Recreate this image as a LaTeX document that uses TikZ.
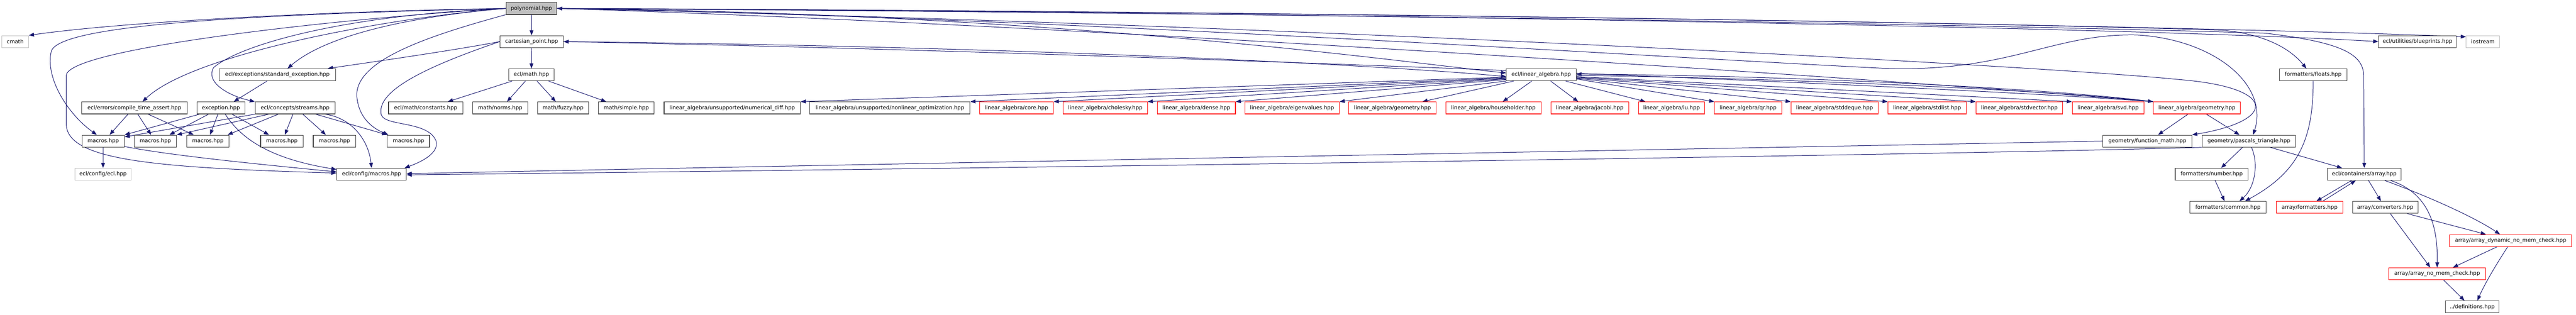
\documentclass[tikz,border=0pt]{standalone}
\usepackage{fontspec}
\setmainfont{DejaVu Sans}
\usetikzlibrary{arrows.meta,calc}
\pgfdeclarelayer{bg}
\pgfsetlayers{bg,main}
\definecolor{edgecol}{HTML}{191970}
\definecolor{boxcol}{HTML}{404040}
\definecolor{redcol}{HTML}{FF0000}
\definecolor{greycol}{HTML}{BFBFBF}
\tikzset{
  box/.style={draw=boxcol, line width=1.3pt, fill=white, minimum height=28pt, inner sep=0pt,
    text=black, font=\fontsize{12.5}{15}\selectfont},
  rbox/.style={box, draw=redcol},
  gbox/.style={box, draw=greycol},
  edge/.style={draw=edgecol, line width=1.2pt, -{Triangle[length=12pt,width=9pt]}},
}
\begin{document}
\begin{tikzpicture}[x=1pt,y=-1.41pt]
\useasboundingbox (0,0) rectangle (6028,522);
% row 0
\node[box, minimum width=119pt, fill=greycol] (P) at (1243.5,14) {polynomial.hpp};
% row 1
\node[gbox, minimum width=63pt] (cmath) at (35.5,69) {cmath};
\node[box, minimum width=148pt] (C) at (1244,69) {cartesian\_point.hpp};
\node[box, minimum width=182pt] (blue) at (5657,69) {ecl/utilities/blueprints.hpp};
\node[gbox, minimum width=78pt] (ios) at (5810,69) {iostream};
% row 2
\node[box, minimum width=272pt] (sexc) at (649,124) {ecl/exceptions/standard\_exception.hpp};
\node[box, minimum width=107pt] (math) at (1243.5,124) {ecl/math.hpp};
\node[box, minimum width=163pt] (L) at (3606.5,124) {ecl/linear\_algebra.hpp};
\node[box, minimum width=158pt] (floats) at (5413,124) {formatters/floats.hpp};
% row 3
\node[box, minimum width=247pt] (cta) at (314.5,179) {ecl/errors/compile\_time\_assert.hpp};
\node[box, minimum width=112pt] (exc) at (517,179) {exception.hpp};
\node[box, minimum width=187pt] (streams) at (690.5,179) {ecl/concepts/streams.hpp};
\node[box, minimum width=174pt] (const) at (996,179) {ecl/math/constants.hpp};
\node[box, minimum width=129pt] (norms) at (1170.5,179) {math/norms.hpp};
\node[box, minimum width=119pt] (fuzzy) at (1317.5,179) {math/fuzzy.hpp};
\node[box, minimum width=131pt] (simple) at (1465.5,179) {math/simple.hpp};
\node[box, minimum width=319pt] (numdiff) at (1713.5,179) {linear\_algebra/unsupported/numerical\_diff.hpp};
\node[box, minimum width=375pt] (nlopt) at (2082.5,179) {linear\_algebra/unsupported/nonlinear\_optimization.hpp};
\node[rbox, minimum width=173pt] (core) at (2378.5,179) {linear\_algebra/core.hpp};
\node[rbox, minimum width=197pt] (chol) at (2586.5,179) {linear\_algebra/cholesky.hpp};
\node[rbox, minimum width=183pt] (dense) at (2799.5,179) {linear\_algebra/dense.hpp};
\node[rbox, minimum width=221pt] (eigen) at (3023.5,179) {linear\_algebra/eigenvalues.hpp};
\node[rbox, minimum width=205pt] (geomA) at (3258.5,179) {linear\_algebra/geometry.hpp};
\node[rbox, minimum width=223pt] (house) at (3494.5,179) {linear\_algebra/householder.hpp};
\node[rbox, minimum width=182pt] (jacobi) at (3720,179) {linear\_algebra/jacobi.hpp};
\node[rbox, minimum width=155pt] (lu) at (3911.5,179) {linear\_algebra/lu.hpp};
\node[rbox, minimum width=157pt] (qr) at (4090.5,179) {linear\_algebra/qr.hpp};
\node[rbox, minimum width=204pt] (deque) at (4293,179) {linear\_algebra/stddeque.hpp};
\node[rbox, minimum width=183pt] (list) at (4509.5,179) {linear\_algebra/stdlist.hpp};
\node[rbox, minimum width=203pt] (vector) at (4725.5,179) {linear\_algebra/stdvector.hpp};
\node[rbox, minimum width=168pt] (svd) at (4933,179) {linear\_algebra/svd.hpp};
\node[rbox, minimum width=204pt] (geomB) at (5141,179) {linear\_algebra/geometry.hpp};
% row 4
\node[box, minimum width=99pt] (m1) at (241.5,234) {macros.hpp};
\node[box, minimum width=99pt] (m2) at (363.5,234) {macros.hpp};
\node[box, minimum width=99pt] (m3) at (486.5,234) {macros.hpp};
\node[box, minimum width=99pt] (m4) at (659.5,234) {macros.hpp};
\node[box, minimum width=99pt] (m5) at (782.5,234) {macros.hpp};
\node[box, minimum width=99pt] (m6) at (956,234) {macros.hpp};
\node[box, minimum width=208pt] (fmath) at (5025,234) {geometry/function\_math.hpp};
\node[box, minimum width=219pt] (pascal) at (5262.5,234) {geometry/pascals\_triangle.hpp};
% row 5
\node[gbox, minimum width=132pt] (eclhpp) at (241,289) {ecl/config/ecl.hpp};
\node[box, minimum width=163pt] (cfgm) at (869.5,289) {ecl/config/macros.hpp};
\node[box, minimum width=171pt] (number) at (5175.5,289) {formatters/number.hpp};
\node[box, minimum width=173pt] (array) at (5532.5,289) {ecl/containers/array.hpp};
% row 6
\node[box, minimum width=179pt] (common) at (5213.5,344) {formatters/common.hpp};
\node[rbox, minimum width=155pt] (afmt) at (5404.5,344) {array/formatters.hpp};
\node[box, minimum width=153pt] (conv) at (5581.5,344) {array/converters.hpp};
% rows 7-9
\node[rbox, minimum width=286pt] (adyn) at (5875,399) {array/array\_dynamic\_no\_mem\_check.hpp};
\node[rbox, minimum width=226pt] (anomem) at (5703,454) {array/array\_no\_mem\_check.hpp};
\node[box, minimum width=126pt] (defs) at (5785,509) {../definitions.hpp};

\begin{pgfonlayer}{bg}
\fill[white] (0,0) rectangle (6028,522);
% polynomial.hpp
\draw[edge] (P.west) .. controls (800,18) and (300,35) .. (cmath.north east);
\draw[edge] (P.west) .. controls (600,24) and (140,40) .. (120,85) .. controls (105,130) and (160,190) .. ($(m1.north)+(-15,0)$);
\draw[edge] (P.west) .. controls (800,30) and (160,80) .. (155,125) -- (155,205) .. controls (155,265) and (350,278) .. ($(cfgm.west)+(0,-2)$);
\draw[edge] (P.west) .. controls (900,30) and (450,90) .. ($(cta.north)+(19,0)$);
\draw[edge] (P.west) .. controls (800,25) and (560,75) .. (500,112) .. controls (480,135) and (530,158) .. (streams.north west);
\draw[edge] (P.west) .. controls (950,28) and (760,60) .. ($(sexc.north)+(24,0)$);
\draw[edge] (P.south west) .. controls (1000,60) and (830,100) .. (835,160) .. controls (840,200) and (880,215) .. ($(m6.north west)+(3,0)$);
\draw[edge] (P) -- (C);
\draw[edge] (P.east) .. controls (2500,22) and (3300,105) .. ($(L.west)+(0,-3)$);
\draw[edge] (P.east) .. controls (3000,40) and (4800,110) .. (5100,132) .. controls (5330,145) and (5330,200) .. (fmath.north east);
\draw[edge] (P.east) .. controls (2500,30) and (3800,92) .. (4400,113) .. controls (4700,122) and (4800,55) .. (5000,58) .. controls (5180,65) and (5310,140) .. ($(pascal.north)+(10,0)$);
\draw[edge] (P.east) .. controls (3000,20) and (4500,35) .. (5200,50) .. controls (5320,58) and (5370,90) .. ($(floats.north)+(-16,0)$);
\draw[edge] (P.east) .. controls (3000,22) and (4500,38) .. (5300,55) .. controls (5480,70) and (5530,90) .. (5531,125) -- (array.north);
\draw[edge] (P.east) .. controls (3000,20) and (5000,45) .. (blue.west);
\draw[edge] (P.east) .. controls (3000,18) and (5000,40) .. ($(ios.west)+(0,-8)$);
% cartesian_point.hpp
\draw[edge] (C) -- (math);
\draw[edge] (C.west) .. controls (1050,85) and (850,105) .. ($(sexc.north)+(118,0)$);
\draw[edge] (C.west) .. controls (1000,110) and (880,150) .. (892,190) .. controls (900,210) and (1000,200) .. (1020,233) .. controls (1030,255) and (980,270) .. ($(cfgm.north east)+(-5,0)$);
\draw[edge] (C.east) .. controls (2500,78) and (3300,112) .. ($(L.west)+(0,3)$);
% ecl/math.hpp
\draw[edge] ($(math.south)+(-45,0)$) -- ($(const.north)+(52,0)$);
\draw[edge] ($(math.south)+(-14,0)$) -- ($(norms.north)+(16,0)$);
\draw[edge] ($(math.south)+(13,0)$) -- ($(fuzzy.north)+(-17,0)$);
\draw[edge] ($(math.south)+(40,0)$) -- ($(simple.north)+(-47,0)$);
% ecl/linear_algebra.hpp
\draw[edge] ($(L.west)+(0,4)$) -- (numdiff.north east);
\draw[edge] ($(L.west)+(0,5)$) -- (nlopt.north east);
\draw[edge] ($(L.west)+(0,6)$) -- (core.north east);
\draw[edge] ($(L.west)+(0,7)$) -- (chol.north east);
\draw[edge] ($(L.west)+(0,8)$) -- (dense.north east);
\draw[edge] (L.south west) -- (eigen.north east);
\draw[edge] ($(L.south west)+(18,0)$) -- ($(geomA.north)+(70,0)$);
\draw[edge] ($(L.south)+(-22,0)$) -- ($(house.north)+(22,0)$);
\draw[edge] ($(L.south)+(22,0)$) -- ($(jacobi.north)+(-27,0)$);
\draw[edge] ($(L.south)+(57,0)$) -- ($(lu.north)+(-61,0)$);
\draw[edge] ($(L.east)+(0,7)$) -- (qr.north west);
\draw[edge] ($(L.east)+(0,6)$) -- (deque.north west);
\draw[edge] ($(L.east)+(0,5)$) -- (list.north west);
\draw[edge] ($(L.east)+(0,4)$) -- (vector.north west);
\draw[edge] ($(L.east)+(0,3)$) -- (svd.north west);
\draw[edge] ($(L.east)+(0,1)$) .. controls (4200,130) and (4800,150) .. (geomB.north west);
\draw[edge] (geomB.north west) .. controls (4800,147) and (4200,125) .. ($(L.east)+(0,-1)$);
\draw[edge] (geomB.north west) .. controls (4500,135) and (2500,40) .. (P.east);
\draw[edge] (geomB.north west) .. controls (4500,140) and (2500,85) .. (C.east);
% exceptions, asserts, streams
\draw[edge] ($(sexc.south)+(-24,0)$) -- ($(exc.north)+(30,0)$);
\draw[edge] ($(exc.south)+(-50,0)$) -- (m1.north east);
\draw[edge] ($(exc.south)+(-29,0)$) -- ($(m2.north)+(33,0)$);
\draw[edge] ($(exc.south)+(-7,0)$) -- ($(m3.north)+(5,0)$);
\draw[edge] ($(exc.south)+(26,0)$) -- ($(m4.north)+(-30,0)$);
\draw[edge] ($(exc.south)+(10,0)$) .. controls (560,225) and (620,262) .. ($(cfgm.west)+(0,-8)$);
\draw[edge] ($(cta.south)+(-15,0)$) -- ($(m1.north)+(15,0)$);
\draw[edge] ($(cta.south)+(8,0)$) -- ($(m2.north)+(-10,0)$);
\draw[edge] ($(cta.south)+(32,0)$) -- ($(m3.north)+(-33,0)$);
\draw[edge] (streams.south west) -- ($(m1.east)+(0,-7)$);
\draw[edge] ($(streams.south west)+(33,0)$) -- (m2.north east);
\draw[edge] ($(streams.south west)+(55,0)$) -- ($(m3.north east)+(-4,0)$);
\draw[edge] ($(streams.south)+(-5,0)$) -- ($(m4.north)+(7,0)$);
\draw[edge] ($(streams.south)+(18,0)$) -- ($(m5.north)+(-20,0)$);
\draw[edge] ($(streams.south)+(48,0)$) -- (m6.north west);
\draw[edge] ($(streams.south)+(70,0)$) .. controls (820,195) and (862,230) .. (cfgm.north);
\draw[edge] (m1) -- (eclhpp);
\draw[edge] ($(m1.east)+(0,9)$) .. controls (400,258) and (600,272) .. ($(cfgm.west)+(0,-4)$);
% geometry
\draw[edge] (fmath.west) .. controls (3600,252) and (2200,270) .. ($(cfgm.east)+(0,-1)$);
\draw[edge] (pascal.south west) .. controls (4500,258) and (2000,282) .. ($(cfgm.east)+(0,1)$);
\draw[edge] ($(geomB.south)+(-21,0)$) -- ($(fmath.north)+(25,0)$);
\draw[edge] ($(geomB.south)+(22,0)$) -- ($(pascal.north)+(-22,0)$);
\draw[edge] ($(pascal.south)+(-15,0)$) -- ($(number.north)+(22,0)$);
\draw[edge] ($(pascal.south)+(6,0)$) .. controls (5285,270) and (5278,310) .. ($(common.north)+(27,0)$);
\draw[edge] ($(pascal.south)+(50,0)$) -- ($(array.north)+(-52,0)$);
\draw[edge] ($(number.south)+(8,0)$) -- ($(common.north)+(-8,0)$);
\draw[edge] (floats.south) .. controls (5413,230) and (5380,285) .. ($(common.north)+(40,0)$);
% containers
\draw[edge] ($(array.south)+(-30,0)$) -- ($(afmt.north)+(16,0)$);
\draw[edge] ($(afmt.north)+(31,0)$) -- ($(array.south)+(-20,0)$);
\draw[edge] ($(array.south)+(10,0)$) -- ($(conv.north)+(-10,0)$);
\draw[edge] ($(array.south)+(62,0)$) .. controls (5680,320) and (5705,370) .. (anomem.north);
\draw[edge] ($(array.south)+(48,0)$) .. controls (5680,325) and (5790,360) .. ($(adyn.north)+(-25,0)$);
\draw[edge] ($(conv.south)+(12,0)$) -- ($(anomem.north)+(-16,0)$);
\draw[edge] ($(conv.south)+(52,0)$) -- ($(adyn.north)+(-58,0)$);
\draw[edge] ($(adyn.south)+(-32,0)$) -- ($(anomem.north)+(37,0)$);
\draw[edge] ($(adyn.south)+(-7,0)$) .. controls (5840,440) and (5815,470) .. ($(defs.north)+(12,0)$);
\draw[edge] ($(anomem.south)+(15,0)$) -- ($(defs.north)+(-18,0)$);
\end{pgfonlayer}
\end{tikzpicture}
\end{document}
